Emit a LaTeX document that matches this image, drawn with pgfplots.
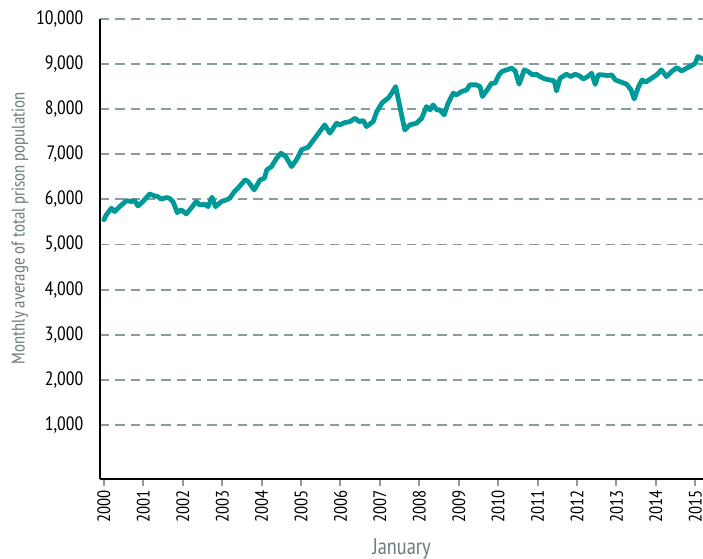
\documentclass[border=0pt]{standalone}
\usepackage{fontspec}
\setmainfont{PT Sans Narrow}
\usepackage{pgfplots}
\pgfplotsset{compat=1.18}
\definecolor{teal}{RGB}{0,153,153}
\definecolor{gridgray}{RGB}{140,156,156}
\definecolor{labgray}{RGB}{110,128,128}
\pgfplotstableread{
x y
2000.00 5550
2000.06 5655
2000.19 5805
2000.27 5730
2000.40 5840
2000.57 5973
2000.69 5952
2000.78 5973
2000.86 5856
2000.99 5952
2001.16 6122
2001.28 6078
2001.37 6062
2001.45 6004
2001.58 6040
2001.66 6026
2001.75 5952
2001.86 5708
2001.96 5767
2002.09 5678
2002.21 5805
2002.34 5952
2002.43 5878
2002.56 5890
2002.64 5840
2002.74 6049
2002.83 5840
2002.98 5952
2003.11 5989
2003.19 6026
2003.31 6173
2003.45 6299
2003.58 6432
2003.66 6395
2003.81 6211
2003.96 6432
2004.07 6470
2004.13 6654
2004.25 6728
2004.38 6913
2004.49 7024
2004.61 6950
2004.76 6728
2004.90 6900
2005.01 7098
2005.18 7157
2005.35 7357
2005.60 7652
2005.73 7468
2005.90 7690
2005.98 7652
2006.11 7703
2006.24 7725
2006.37 7800
2006.47 7725
2006.58 7747
2006.66 7614
2006.83 7725
2006.92 7947
2007.06 8147
2007.21 8244
2007.30 8355
2007.40 8501
2007.63 7541
2007.76 7652
2007.93 7690
2008.06 7800
2008.18 8058
2008.27 7985
2008.35 8095
2008.44 7985
2008.52 7985
2008.63 7874
2008.73 8133
2008.86 8355
2008.94 8317
2009.07 8390
2009.20 8428
2009.28 8539
2009.45 8539
2009.54 8501
2009.60 8280
2009.75 8466
2009.83 8576
2009.92 8576
2010.02 8761
2010.09 8834
2010.21 8871
2010.34 8909
2010.43 8849
2010.53 8554
2010.66 8871
2010.76 8834
2010.87 8761
2010.97 8775
2011.06 8723
2011.18 8672
2011.31 8649
2011.42 8627
2011.48 8405
2011.57 8687
2011.73 8775
2011.84 8723
2011.95 8775
2012.05 8745
2012.16 8672
2012.27 8723
2012.37 8798
2012.46 8550
2012.54 8761
2012.63 8761
2012.80 8745
2012.88 8761
2012.97 8649
2013.13 8598
2013.26 8554
2013.37 8428
2013.45 8228
2013.56 8501
2013.65 8649
2013.74 8598
2013.89 8687
2014.02 8761
2014.14 8871
2014.27 8723
2014.40 8834
2014.53 8923
2014.65 8849
2014.78 8909
2014.91 8967
2015.00 9020
2015.06 9166
2015.15 9131
2015.22 9100
}\prisondata
\begin{document}
\begin{tikzpicture}
\useasboundingbox (-75pt,-60pt) rectangle (452.25pt,359.25pt);
\begin{axis}[
  scale only axis,
  at={(0,0)}, anchor=south west,
  width=452.25pt, height=345pt,
  xmin=1999.9, xmax=2015.195,
  ymin=-200, ymax=10000,
  axis x line=bottom, axis y line=left,
  axis line style={-, black, line width=2.2pt},
  xtick={2000,2001,2002,2003,2004,2005,2006,2007,2008,2009,2010,2011,2012,2013,2014,2015},
  xticklabels={2000,2001,2002,2003,2004,2005,2006,2007,2008,2009,2010,2011,2012,2013,2014,2015},
  x tick label style={rotate=90, anchor=east, font=\fontsize{13.5}{13.5}\selectfont, black},
  xtick style={gridgray, line width=1.5pt},
  xtick pos=bottom,
  tick align=outside,
  major tick length=5pt,
  scaled ticks=false,
  ytick={1000,2000,3000,4000,5000,6000,7000,8000,9000,10000},
  yticklabels={{1,000},{2,000},{3,000},{4,000},{5,000},{6,000},{7,000},{8,000},{9,000},{10,000}},
  y tick label style={font=\fontsize{14.5}{14.5}\selectfont, black, xshift=-4pt},
  ytick style={draw=none},
  ymajorgrids,
  major grid style={gridgray, line width=1.4pt, dash pattern=on 7pt off 4.5pt},
  xlabel={January},
  xlabel style={font=\fontsize{17}{17}\selectfont, labgray, at={(axis description cs:0.5,-0.152)}, anchor=center},
  ylabel={Monthly average of total prison population},
  ylabel style={font=\fontsize{13.8}{13.8}\selectfont, labgray, at={(axis description cs:-0.1327,0.545)}, anchor=center},
  clip=true,
]
\addplot[teal, line width=3.6pt, line join=round, line cap=round, mark=none] table[x=x, y=y] {\prisondata};
\end{axis}
\end{tikzpicture}
\end{document}
